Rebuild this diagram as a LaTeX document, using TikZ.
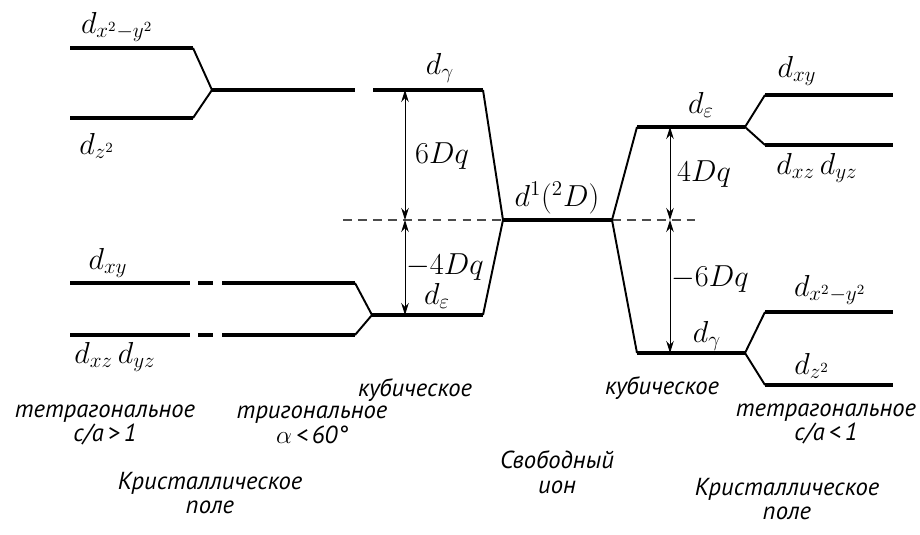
\documentclass[tikz,border=0pt]{standalone}
\usepackage{fontspec}
\setmainfont{PT Sans}
\usepackage{amsmath}
\usetikzlibrary{arrows.meta}

\begin{document}
\begin{tikzpicture}[x=0.2mm, y=-0.2mm, font=\fontsize{14}{16}\selectfont\itshape,
  >={Stealth[length=2.4mm,width=1.5mm]},
  lvl/.style={line width=1.8pt},
  slant/.style={line width=1.1pt},
  gaparrow/.style={<->, line width=0.5pt},
  lab/.style={font=\fontsize{17}{19}\selectfont},
  zeroline/.style={line width=0.8pt, dash pattern=on 5pt off 3.5pt, black!70}]
  \useasboundingbox (0,0) rectangle (920,535);
  % free ion
  \coordinate (fi-l) at (503,220);
  \coordinate (fi-r) at (612,220);
  \draw[lvl] (fi-l) -- (fi-r);
  \node[lab] (fi-lab) at (557,198) {$d^1({}^2D)$};
  \draw[zeroline] (343,220) -- (fi-l);
  \draw[zeroline] (fi-r) -- (697,220);
  % left cubic
  \coordinate (dg-l) at (373,90);
  \coordinate (dg-r) at (483,90);
  \coordinate (de-l) at (372,315);
  \coordinate (de-r) at (483,315);
  \draw[lvl] (dg-l) -- (dg-r);
  \draw[lvl] (de-l) -- (de-r);
  \draw[slant] (dg-r) -- (fi-l) -- (de-r);
  \node[lab] (dg-lab) at (440,68) {$d_\gamma$};
  \node[lab] (de-lab) at (437,296) {$d_\varepsilon$};
  \coordinate (a-top) at (405,90);
  \coordinate (a-mid) at (405,220);
  \coordinate (a-bot) at (405,315);
  \draw[gaparrow] (a-top) -- (a-mid);
  \draw[gaparrow] (a-mid) -- (a-bot);
  \node[lab] (q6) at (442,156) {$6Dq$};
  \node[lab] (q4m) at (445,267) {$-4Dq$};
  % left tetragonal, upper pair
  \coordinate (lt-m) at (212,90);
  \draw[lvl] (70,48) -- (193,48);
  \draw[lvl] (70,118) -- (193,118);
  \draw[slant] (193,48) -- (lt-m) -- (193,118);
  \draw[lvl] (lt-m) -- (355,90);
  \node[lab] (lx2y2) at (117,27) {$d_{x^2-y^2}$};
  \node[lab] (lz2) at (97,146) {$d_{z^2}$};
  % left tetragonal, lower pair
  \draw[lvl] (70,283) -- (190,283);
  \draw[lvl] (198,283) -- (213,283);
  \draw[lvl] (222,283) -- (355,283);
  \draw[lvl] (70,335) -- (190,335);
  \draw[lvl] (198,335) -- (213,335);
  \draw[lvl] (222,335) -- (355,335);
  \draw[slant] (355,283) -- (de-l) -- (355,335);
  \node[lab] (lxy) at (108,263) {$d_{xy}$};
  \node[lab] (lxz) at (115,357) {$d_{xz}\,d_{yz}$};
  % right cubic
  \coordinate (re-l) at (637,127);
  \coordinate (re-r) at (745,127);
  \coordinate (rg-l) at (637,353);
  \coordinate (rg-r) at (745,353);
  \draw[lvl] (re-l) -- (re-r);
  \draw[lvl] (rg-l) -- (rg-r);
  \draw[slant] (re-l) -- (fi-r) -- (rg-l);
  \node[lab] (re-lab) at (701,105) {$d_\varepsilon$};
  \node[lab] (rg-lab) at (707,336) {$d_\gamma$};
  \coordinate (b-top) at (670,127);
  \coordinate (b-mid) at (670,220);
  \coordinate (b-bot) at (670,353);
  \draw[gaparrow] (b-top) -- (b-mid);
  \draw[gaparrow] (b-mid) -- (b-bot);
  \node[lab] (q4) at (704,174) {$4Dq$};
  \node[lab] (q6m) at (710,279) {$-6Dq$};
  % right tetragonal
  \draw[slant] (765,95) -- (re-r) -- (765,145);
  \draw[lvl] (765,95) -- (893,95);
  \draw[lvl] (765,145) -- (893,145);
  \draw[slant] (765,312) -- (rg-r) -- (765,385);
  \draw[lvl] (765,312) -- (893,312);
  \draw[lvl] (765,385) -- (893,385);
  \node[lab] (rxy) at (797,71) {$d_{xy}$};
  \node[lab] (rxz) at (817,168) {$d_{xz}\,d_{yz}$};
  \node[lab] (rx2y2) at (830,290) {$d_{x^2-y^2}$};
  \node[lab] (rz2) at (812,366) {$d_{z^2}$};
  % captions
  \node (cub-l) at (415,390) {кубическое};
  \node (cub-r) at (662,388) {кубическое};
  \node[align=center] (tet-l) at (105,425) {тетрагональное\\[-2pt]c/a\,>\,1};
  \node[align=center] (tri) at (312,425) {тригональное\\[-2pt]$\alpha$\,<\,60°};
  \node[align=center] (free) at (557,472) {Свободный\\[-2pt]ион};
  \node[align=center] (tet-r) at (826,424) {тетрагональное\\[-2pt]c/a\,<\,1};
  \node[align=center] (kp-l) at (210,493) {Кристаллическое\\[-2pt]поле};
  \node[align=center] (kp-r) at (787,499) {Кристаллическое\\[-2pt]поле};
\end{tikzpicture}
\end{document}
